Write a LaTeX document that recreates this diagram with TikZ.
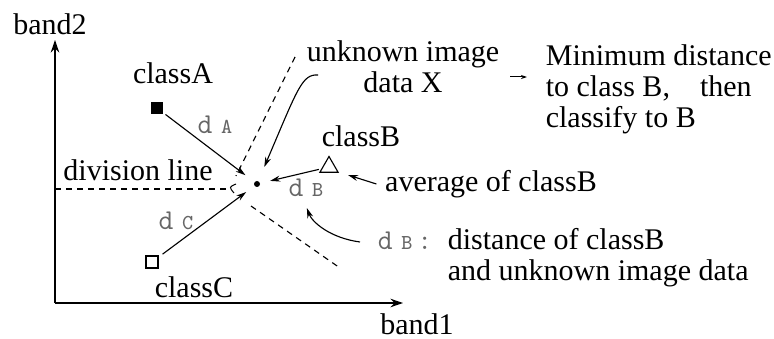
\documentclass[tikz,border=0pt]{standalone}
\usepackage{fontspec}
\setmainfont{Liberation Serif}
\usetikzlibrary{arrows.meta,shapes.geometric}
\newcommand{\dlab}[1]{d\hspace{0.3em}{\fontsize{8.5}{9}\selectfont #1}}

\begin{document}
\begin{tikzpicture}[x=0.4pt, y=-0.4pt,
  font=\fontsize{12}{12.4}\selectfont,
  axis/.style={line width=0.6pt, -{Stealth[length=5pt,width=3.4pt]}},
  arr/.style={line width=0.45pt, -{Stealth[length=4pt,width=2.4pt]}},
  divline/.style={line width=0.45pt, dash pattern=on 2.4pt off 2pt},
  dlbl/.style={font=\fontsize{11.5}{12}\selectfont\ttfamily, text=black!60}]
  \useasboundingbox (0,0) rectangle (774,339);
  % axes
  \coordinate (O) at (55,303);
  \coordinate (ytop) at (55,40);
  \coordinate (xend) at (403,303);
  \draw[axis] (O) -- (ytop);
  \draw[axis] (O) -- (xend);
  \node (band2) at (50,24) {band2};
  \node[inner sep=1pt] (band1) at (417,324) {band1};
  % division lines
  \coordinate (divTop) at (295,57);
  \coordinate (divUp) at (236,176);
  \coordinate (divLo) at (251,206);
  \coordinate (divBot) at (340,268);
  \coordinate (divLeft) at (55,189);
  \coordinate (divMid) at (228,189);
  \draw[divline] (divTop) -- (divUp);
  \draw[divline] (divLo) -- (divBot);
  \draw[divline] (divLeft) -- (divMid);
  \draw[line width=0.4pt] (236,184) .. controls (229,187) .. (234,193);
  \node (divlbl) at (138,170) {division line};
  % class averages
  \node[fill=black, inner sep=0pt, minimum size=4.8pt] (mA) at (157,108) {};
  \node[draw, line width=0.45pt, regular polygon, regular polygon sides=3,
        inner sep=0pt, minimum size=8.4pt] (mB) at (329,167) {};
  \node[draw, line width=0.45pt, inner sep=0pt, minimum size=4.8pt] (mC) at (152,262) {};
  \node (lblA) at (173,73) {classA};
  \node (lblB) at (361,136) {classB};
  \node (lblC) at (194,287) {classC};
  % unknown image data X
  \node[circle, fill=black, inner sep=0pt, minimum size=2.4pt] (X) at (257,184) {};
  \node[align=center] (unk) at (403,67) {unknown image\\data X};
  \coordinate (unkfrom) at (318,75);
  \draw[arr, shorten >=6pt] (unkfrom) .. controls (302,74) and (298,88) .. (X);
  % distances
  \draw[arr, shorten <=1pt, shorten >=4.4pt] (mA) -- (X);
  \draw[arr, shorten <=1pt, shorten >=4pt] (mB) -- (X);
  \draw[arr, shorten <=2pt, shorten >=4pt] (mC) -- (X);
  \node[dlbl] (dA) at (215,125) {\dlab{A}};
  \node[dlbl] (dB) at (306,188) {\dlab{B}};
  \node[dlbl] (dC) at (176,221) {\dlab{C}};
  % notes on the right
  \node[align=left, anchor=west] (mind) at (537,89) {Minimum distance\\to class B,\quad then\\classify to B};
  \coordinate (mindfrom) at (510,77);
  \draw[line width=0.4pt, -{Stealth[length=2.4pt,width=1.6pt]}, shorten >=4pt] (mindfrom) -- (mindfrom -| mind.west);
  \node (avg) at (491,184) {average of classB};
  \coordinate (avgtip) at (348,175);
  \draw[arr] (avg.west) -- (avgtip);
  \node[dlbl] (dBkey) at (405,241) {\dlab{B}\,:};
  \node[align=left, anchor=west] (dBtxt) at (439,258) {distance of classB\\and unknown image data};
  \coordinate (dBfrom) at (360,242);
  \draw[arr, shorten >=1pt] (dBfrom) .. controls (330,238) and (312,222) .. (dB.south);
\end{tikzpicture}
\end{document}
